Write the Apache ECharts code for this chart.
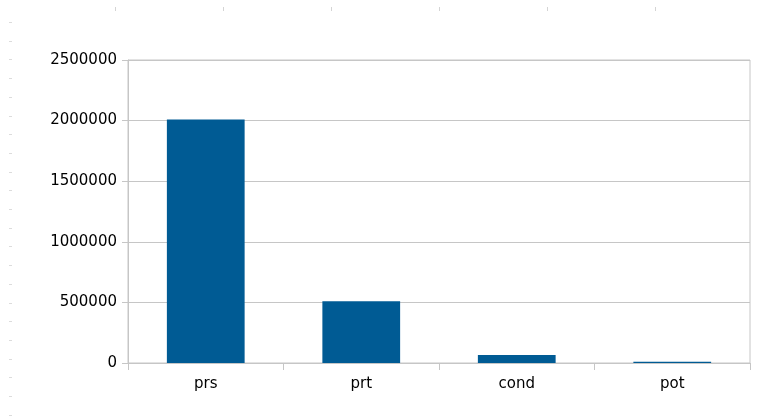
<!DOCTYPE html>
<html>
<head>
<meta charset="utf-8">
<script src="https://cdn.jsdelivr.net/npm/echarts@6/dist/echarts.min.js"></script>
<style>
  html, body { margin: 0; padding: 0; background: #ffffff; }
  #chart { width: 760px; height: 417px; }
</style>
</head>
<body>
<div id="chart"></div>
<script>
// Counts per category
const categories = ['prs', 'prt', 'cond', 'pot'];
const counts = [2010000, 510000, 66000, 10000];
const yTicks = { min: 0, max: 2500000, step: 500000 };

const chart = echarts.init(document.getElementById('chart'), null, { renderer: 'canvas' });

// Faint ruler marks along the top and left margins of the sheet
const rulerMarks = [];
for (let i = 0; i < 6; i++) {
  rulerMarks.push({
    type: 'rect',
    shape: { x: 115 + i * 108, y: 7, width: 1, height: 4 },
    style: { fill: '#d4d4d4' },
    silent: true
  });
}
for (let i = 0; i < 22; i++) {
  rulerMarks.push({
    type: 'rect',
    shape: { x: 9, y: Math.round(22 + i * 18.7), width: 3, height: 1 },
    style: { fill: '#dcdcdc' },
    silent: true
  });
}

const axisFont = { fontFamily: 'DejaVu Sans', fontSize: 15, color: '#000000' };
const lineGray = '#c6c6c6';

chart.setOption({
  backgroundColor: '#ffffff',
  animation: false,
  grid: {
    left: 128, right: 10, top: 60, bottom: 54,
    show: true, borderColor: lineGray, borderWidth: 1
  },
  xAxis: {
    type: 'category',
    data: categories,
    boundaryGap: true,
    axisLine: { show: true, lineStyle: { color: lineGray, width: 1 } },
    axisTick: { show: true, length: 7, alignWithLabel: false, lineStyle: { color: lineGray } },
    axisLabel: Object.assign({ margin: 14 }, axisFont),
    splitLine: { show: false }
  },
  yAxis: {
    type: 'value',
    min: yTicks.min, max: yTicks.max, interval: yTicks.step,
    axisLine: { show: true, lineStyle: { color: lineGray, width: 1 } },
    axisTick: { show: true, length: 6, lineStyle: { color: lineGray } },
    axisLabel: Object.assign({ margin: 11, formatter: v => String(v) }, axisFont),
    splitLine: { show: true, lineStyle: { color: lineGray, width: 1 } }
  },
  series: [{
    type: 'bar',
    data: counts,
    barWidth: '50%',
    itemStyle: { color: '#005b94' }
  }],
  graphic: rulerMarks
});
</script>
</body>
</html>
